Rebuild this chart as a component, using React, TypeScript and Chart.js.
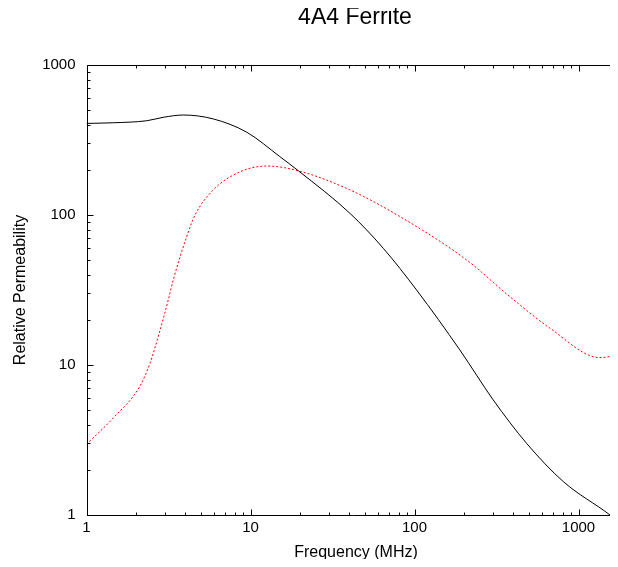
import React, { useEffect, useRef } from "react";
import { Chart, registerables } from "chart.js";

Chart.register(...registerables);

// Real part of the complex permeability (mu')
const muRealFreq = [1, 1.46, 2.33, 2.94, 3.89, 5.93, 9.5, 15.1, 19.6, 40.4, 64.5, 103, 189, 302, 483, 808, 1556, 2000];
const muRealValues = [408, 412, 425, 448, 464, 437, 356, 245, 197, 102.6, 60, 31.6, 12.6, 5.85, 3.0, 1.67, 1.0, 0.8];

// Imaginary part of the complex permeability (mu'')
const muImagFreq = [1, 1.46, 2.12, 2.44, 2.81, 3.15, 3.38, 4.08, 4.59, 5.93, 8.63, 12.6, 19.6, 40.4, 81.6, 208, 382, 670, 1352, 1710, 2000];
const muImagValues = [2.96, 4.45, 7.24, 10.3, 17.1, 27.1, 36.9, 71.6, 100, 147, 194, 212, 197, 147, 97.5, 50.1, 28.5, 17.6, 11.2, 11.8, 13];

// Axis ranges (MHz / relative permeability)
const xMin = 1;
const xMax = 1741;
const yMin = 1;
const yMax = 1000;

const xTickValues = [1, 10, 100, 1000];
const yTickValues = [1, 10, 100, 1000];

const titleText = "4A4 Ferrite";
const xAxisTitle = "Frequency (MHz)";
const yAxisTitle = "Relative Permeability";

const FONT = '"Liberation Sans", Arial, Helvetica, sans-serif';

const CANVAS_W = 610;
const CANVAS_H = 551;

// Border with inward major/minor ticks on the left, bottom and top edges
const frameAndText = {
  id: "frameAndText",
  afterDatasetsDraw(chart: any) {
    const { ctx, chartArea, scales } = chart;
    const xs = scales.x;
    const ys = scales.y;
    const L = Math.round(chartArea.left) + 0.5;
    const B = Math.round(chartArea.bottom) + 0.5;
    const T = Math.round(chartArea.top) + 0.5;
    const R = chartArea.right + 2;
    ctx.save();
    ctx.strokeStyle = "#000";
    ctx.lineWidth = 1;
    ctx.beginPath();
    ctx.moveTo(L, T);
    ctx.lineTo(L, B);
    ctx.moveTo(L, B);
    ctx.lineTo(R, B);
    ctx.moveTo(L, T);
    ctx.lineTo(R, T);
    const major = 6;
    const minor = 3;
    for (let d = 1; d <= 1000; d *= 10) {
      for (let m = 1; m <= 9; m++) {
        const v = d * m;
        const len = m === 1 ? major : minor;
        if (v <= xs.max && v >= xs.min) {
          const px = Math.round(xs.getPixelForValue(v)) + 0.5;
          ctx.moveTo(px, B);
          ctx.lineTo(px, B - len);
          ctx.moveTo(px, T);
          ctx.lineTo(px, T + len);
        }
        if (v <= ys.max && v >= ys.min) {
          const py = Math.round(ys.getPixelForValue(v)) + 0.5;
          ctx.moveTo(L, py);
          ctx.lineTo(L + len, py);
        }
      }
    }
    ctx.stroke();

    ctx.fillStyle = "#000";
    ctx.textAlign = "center";
    ctx.textBaseline = "alphabetic";
    ctx.font = `23px ${FONT}`;
    ctx.fillText(titleText, 347, 15.5);
    ctx.font = `16px ${FONT}`;
    ctx.fillText(xAxisTitle, 348, 548.5);
    ctx.translate(17, (chartArea.top + chartArea.bottom) / 2);
    ctx.rotate(-Math.PI / 2);
    ctx.fillText(yAxisTitle, 0, 0);
    ctx.restore();
  },
};

export default function App() {
  const ref = useRef<HTMLCanvasElement | null>(null);

  useEffect(() => {
    if (!ref.current) return;
    const chart = new Chart(ref.current, {
      type: "line",
      data: {
        datasets: [
          {
            label: "mu'",
            data: muRealFreq.map((f, i) => ({ x: f, y: muRealValues[i] })),
            borderColor: "#000000",
            borderWidth: 1,
            pointRadius: 0,
            cubicInterpolationMode: "monotone",
            fill: false,
          },
          {
            label: "mu''",
            data: muImagFreq.map((f, i) => ({ x: f, y: muImagValues[i] })),
            borderColor: "#ff0000",
            borderWidth: 1,
            borderDash: [2, 2],
            pointRadius: 0,
            cubicInterpolationMode: "monotone",
            fill: false,
          },
        ],
      },
      options: {
        animation: false,
        responsive: false,
        maintainAspectRatio: false,
        devicePixelRatio: 1,
        layout: { padding: { top: 57, right: 0, left: 0, bottom: 0 } },
        plugins: {
          legend: { display: false },
          title: { display: false },
          tooltip: { enabled: false },
        },
        scales: {
          x: {
            type: "logarithmic",
            min: xMin,
            max: xMax,
            grid: { display: false, drawTicks: false },
            border: { display: false },
            afterBuildTicks: (scale: any) => {
              scale.ticks = xTickValues.map((v) => ({ value: v }));
            },
            afterFit: (scale: any) => {
              scale.height = 44;
            },
            ticks: {
              autoSkip: false,
              maxRotation: 0,
              padding: 4,
              color: "#000",
              font: { family: FONT, size: 15 },
              callback: (v: any) => String(v),
            },
          },
          y: {
            type: "logarithmic",
            min: yMin,
            max: yMax,
            grid: { display: false, drawTicks: false },
            border: { display: false },
            afterBuildTicks: (scale: any) => {
              scale.ticks = yTickValues.map((v) => ({ value: v }));
            },
            afterFit: (scale: any) => {
              scale.width = 78.5;
            },
            ticks: {
              autoSkip: false,
              padding: 11,
              color: "#000",
              font: { family: FONT, size: 15 },
              callback: (v: any) => String(v),
            },
          },
        },
      },
      plugins: [frameAndText],
    });
    return () => chart.destroy();
  }, []);

  return (
    <div style={{ width: CANVAS_W, height: CANVAS_H }}>
      <canvas ref={ref} width={CANVAS_W} height={CANVAS_H} style={{ display: "block" }} />
    </div>
  );
}
